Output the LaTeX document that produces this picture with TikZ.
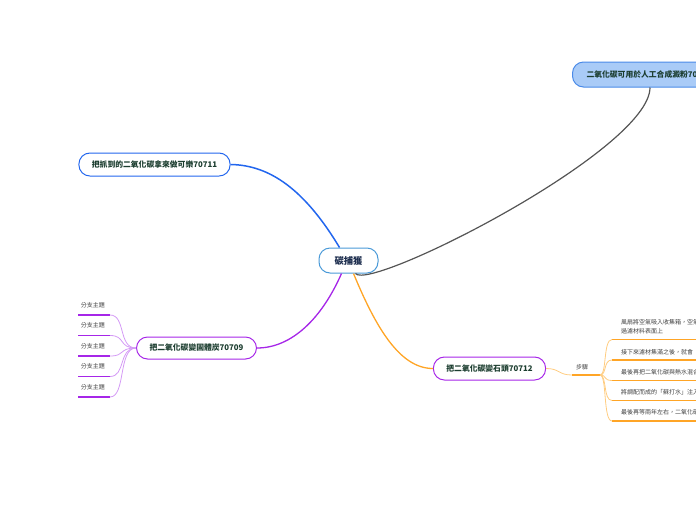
\documentclass[tikz,border=0pt]{standalone}
\usepackage{fontspec}
\setmainfont{Noto Sans CJK TC}
\usetikzlibrary{positioning,calc}

\definecolor{corebd}{HTML}{4A9AD8}
\definecolor{coretext}{HTML}{1A2B4C}
\definecolor{topictext}{HTML}{1B3D2F}
\definecolor{blueln}{HTML}{2266EE}
\definecolor{purpln}{HTML}{A626E8}
\definecolor{purplt}{HTML}{D49AF5}
\definecolor{orgln}{HTML}{FFA526}
\definecolor{orglt}{HTML}{FFCC80}
\definecolor{grayln}{HTML}{555555}
\definecolor{starchfill}{HTML}{A9CBF7}
\definecolor{starchbd}{HTML}{4A8AE8}

\tikzset{
  mainbox/.style={draw, line width=1pt, fill=white, rounded corners=11pt,
    minimum height=23pt, inner xsep=13pt, text=topictext,
    font=\bfseries\fontsize{7.8}{9}\selectfont},
  subtext/.style={font=\fontsize{6}{7}\selectfont, text=black!75, inner sep=0pt},
  fanline/.style={line width=0.8pt},
  underline/.style={line width=1.6pt}
}

\begin{document}
\begin{tikzpicture}[x=1pt, y=-1pt]
        \path[use as bounding box, clip] (0,0) rectangle (696,520);

        % Central topic
        \node[draw=corebd, line width=1pt, fill=white, rounded corners=11pt,
              minimum width=59pt, minimum height=25pt, text=coretext,
              font=\bfseries\fontsize{9.3}{11}\selectfont] (core) at (348.5,260.5) {碳捕獲};

        % Main topics
        \node[mainbox, draw=starchbd, fill=starchfill, minimum height=25pt, anchor=west,
              inner xsep=14pt, text width=170pt, align=left] (starch) at (572,74.5) {二氧化碳可用於人工合成澱粉70};
        \node[mainbox, draw=blueln] (cola) at (154.5,164.5) {把抓到的二氧化碳拿來做可樂70711};
        \node[mainbox, draw=purpln, minimum height=22pt] (solid) at (196.5,348) {把二氧化碳變固體炭70709};
        \node[mainbox, draw=purpln] (stone) at (489.5,368.5) {把二氧化碳變石頭70712};

        % Connectors from the central topic
        \draw[blueln, line width=1.5pt] ([xshift=-9pt]core.north) .. controls (305,190) and (270,165) .. (cola.east);
        \draw[grayln, line width=1.2pt] ([xshift=7pt]core.south) .. controls (370,292) and (650,150) .. (starch.south west -| 650,0);
        \draw[purpln, line width=1.3pt] ([xshift=-7pt]core.south) .. controls (322,318) and (292,348) .. (solid.east);
        \draw[orgln, line width=1.3pt] ([xshift=5pt]core.south) .. controls (376,328) and (400,368.5) .. (stone.west);

        % Subtopics of the solid carbon branch
        \coordinate (s1) at (110,315);
        \coordinate (s2) at (110,335.5);
        \coordinate (s3) at (110,356);
        \coordinate (s4) at (110,376.5);
        \coordinate (s5) at (110,397);
        \node[subtext, above left=7pt and 5pt of s1] (t1) {分支主題};
        \node[subtext, above left=7pt and 5pt of s2] (t2) {分支主題};
        \node[subtext, above left=7pt and 5pt of s3] (t3) {分支主題};
        \node[subtext, above left=7pt and 5pt of s4] (t4) {分支主題};
        \node[subtext, above left=7pt and 5pt of s5] (t5) {分支主題};
        \draw[purpln, underline] (78,315) -- (s1);
        \draw[purpln, underline] (78,335.5) -- (s2);
        \draw[purpln, underline] (78,356) -- (s3);
        \draw[purpln, underline] (78,376.5) -- (s4);
        \draw[purpln, underline] (78,397) -- (s5);
        \draw[purplt, fanline] (solid.west) .. controls (118,348) and (126,315) .. (s1);
        \draw[purplt, fanline] (solid.west) .. controls (118,348) and (126,335.5) .. (s2);
        \draw[purplt, fanline] (solid.west) .. controls (118,348) and (126,356) .. (s3);
        \draw[purplt, fanline] (solid.west) .. controls (118,348) and (126,376.5) .. (s4);
        \draw[purplt, fanline] (solid.west) .. controls (118,348) and (126,397) .. (s5);

        % Steps of the stone branch
        \coordinate (stepL) at (572,375);
        \coordinate (stepR) at (600,375);
        \node[subtext] (steps) at (582,367) {步驟};
        \draw[orgln, underline] (stepL) -- (stepR);
        \draw[orglt, fanline] (stone.east) .. controls (560,368.5) and (558,375) .. (stepL);

        \coordinate (r1) at (612,339.5);
        \coordinate (r2) at (612,360);
        \coordinate (r3) at (612,380.5);
        \coordinate (r4) at (612,400.5);
        \coordinate (r5) at (612,421);
        \node[subtext, anchor=west, align=left, font=\fontsize{6}{9}\selectfont] (i1) at (621,326.5) {風扇將空氣吸入收集箱，空氣\\過濾材料表面上};
        \node[subtext, anchor=west] (i2) at (621,352) {接下來濾材集滿之後，就會};
        \node[subtext, anchor=west] (i3) at (621,372) {最後再把二氧化碳與熱水混合};
        \node[subtext, anchor=west] (i4) at (621,392) {將調配而成的「蘇打水」注入};
        \node[subtext, anchor=west] (i5) at (621,412.5) {最後再等兩年左右，二氧化碳};
        \draw[orgln, underline] (r1) -- (700,339.5);
        \draw[orgln, underline] (r2) -- (700,360);
        \draw[orgln, underline] (r3) -- (700,380.5);
        \draw[orgln, underline] (r4) -- (700,400.5);
        \draw[orgln, underline] (r5) -- (700,421);
        \draw[orglt, fanline] (stepR) .. controls (607,375) and (603,339.5) .. (r1);
        \draw[orglt, fanline] (stepR) .. controls (607,375) and (603,360) .. (r2);
        \draw[orglt, fanline] (stepR) .. controls (607,375) and (603,380.5) .. (r3);
        \draw[orglt, fanline] (stepR) .. controls (607,375) and (603,400.5) .. (r4);
        \draw[orglt, fanline] (stepR) .. controls (607,375) and (603,421) .. (r5);
\end{tikzpicture}
\end{document}
